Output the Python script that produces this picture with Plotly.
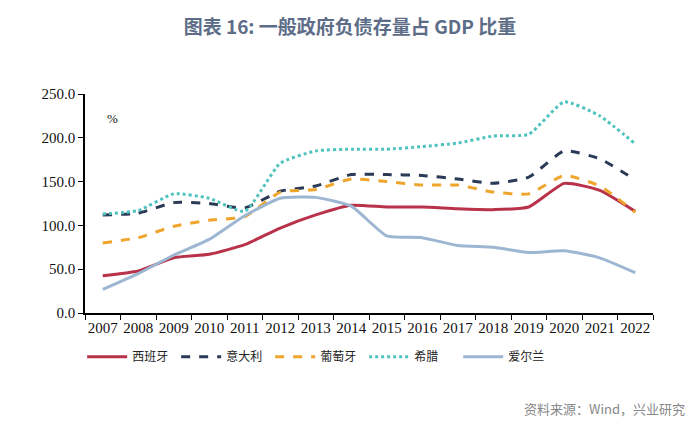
import plotly.graph_objects as go

years = [str(y) for y in range(2007, 2023)]
spain = [42.6, 48, 63, 67, 78, 97, 112, 123, 121, 121, 119, 118, 121, 148, 140, 116]
italy = [112, 114, 126, 125, 120, 139, 145, 158, 158, 157, 153, 148, 155, 185, 176, 152]
portugal = [80, 86, 99, 106, 110, 138, 141, 153, 150, 146, 146, 138, 136, 157, 145, 115]
greece = [113, 117, 136, 131, 116, 171, 185, 187, 187, 190, 194, 202, 204, 241, 225, 193]
ireland = [27, 45, 66, 84, 111, 131, 132, 122, 88, 86, 77, 75, 69, 71, 63, 46]

series = [
    ("西班牙", spain, "#B8324A", "solid", 3),
    ("意大利", italy, "#2A3A57", "dash", 3),
    ("葡萄牙", portugal, "#EFA52C", "dash", 3),
    ("希腊", greece, "#4EC3BE", "dot", 3),
    ("爱尔兰", ireland, "#9DB7D3", "solid", 3),
]

fig = go.Figure()
for name, vals, color, dash, w in series:
    fig.add_trace(go.Scatter(
        x=years, y=vals, name=name, mode="lines",
        line=dict(color=color, dash=dash, width=w, shape="spline", smoothing=0.5),
    ))

fig.update_layout(
    width=700, height=428,
    margin=dict(l=85, r=47, t=94, b=115),
    paper_bgcolor="white", plot_bgcolor="white",
    title=dict(
        text="<b>图表 16: 一般政府负债存量占 GDP 比重</b>",
        x=0.5, xanchor="center", y=0.935, yanchor="middle",
        font=dict(family="Noto Sans CJK SC", size=19, color="#5D6D88"),
    ),
    legend=dict(
        orientation="h", x=-0.005, xanchor="left", y=-0.2, yanchor="middle",
        font=dict(family="Noto Sans CJK SC", size=12, color="#222"),
        itemwidth=40, entrywidth=39, entrywidthmode="pixels",
    ),
    font=dict(family="Liberation Serif", size=15, color="#111"),
)
fig.update_xaxes(
    type="category", tickson="boundaries", range=[-0.5, 15.5], tickangle=0,
    showline=True, linecolor="black", linewidth=1.5,
    ticks="outside", ticklen=5, tickcolor="black", showgrid=False,
    tickfont=dict(family="Liberation Serif", size=15, color="#111"),
)
fig.update_yaxes(
    range=[0, 250], dtick=50, tickformat=".1f", showline=True, linecolor="black", linewidth=1.5,
    ticks="outside", ticklen=5, tickcolor="black", showgrid=False, zeroline=False,
    tickfont=dict(family="Liberation Serif", size=15, color="#111"),
)
fig.add_annotation(
    text="%", x=0.035, y=0.93, xref="paper", yref="paper", showarrow=False,
    font=dict(family="Liberation Serif", size=13, color="#111"),
)
fig.add_annotation(
    text="资料来源：Wind，兴业研究", x=1.06, y=-0.435, xref="paper", yref="paper",
    xanchor="right", yanchor="middle", showarrow=False,
    font=dict(family="Noto Sans CJK SC", size=13, color="#888"),
)
fig.write_html("out.html")
